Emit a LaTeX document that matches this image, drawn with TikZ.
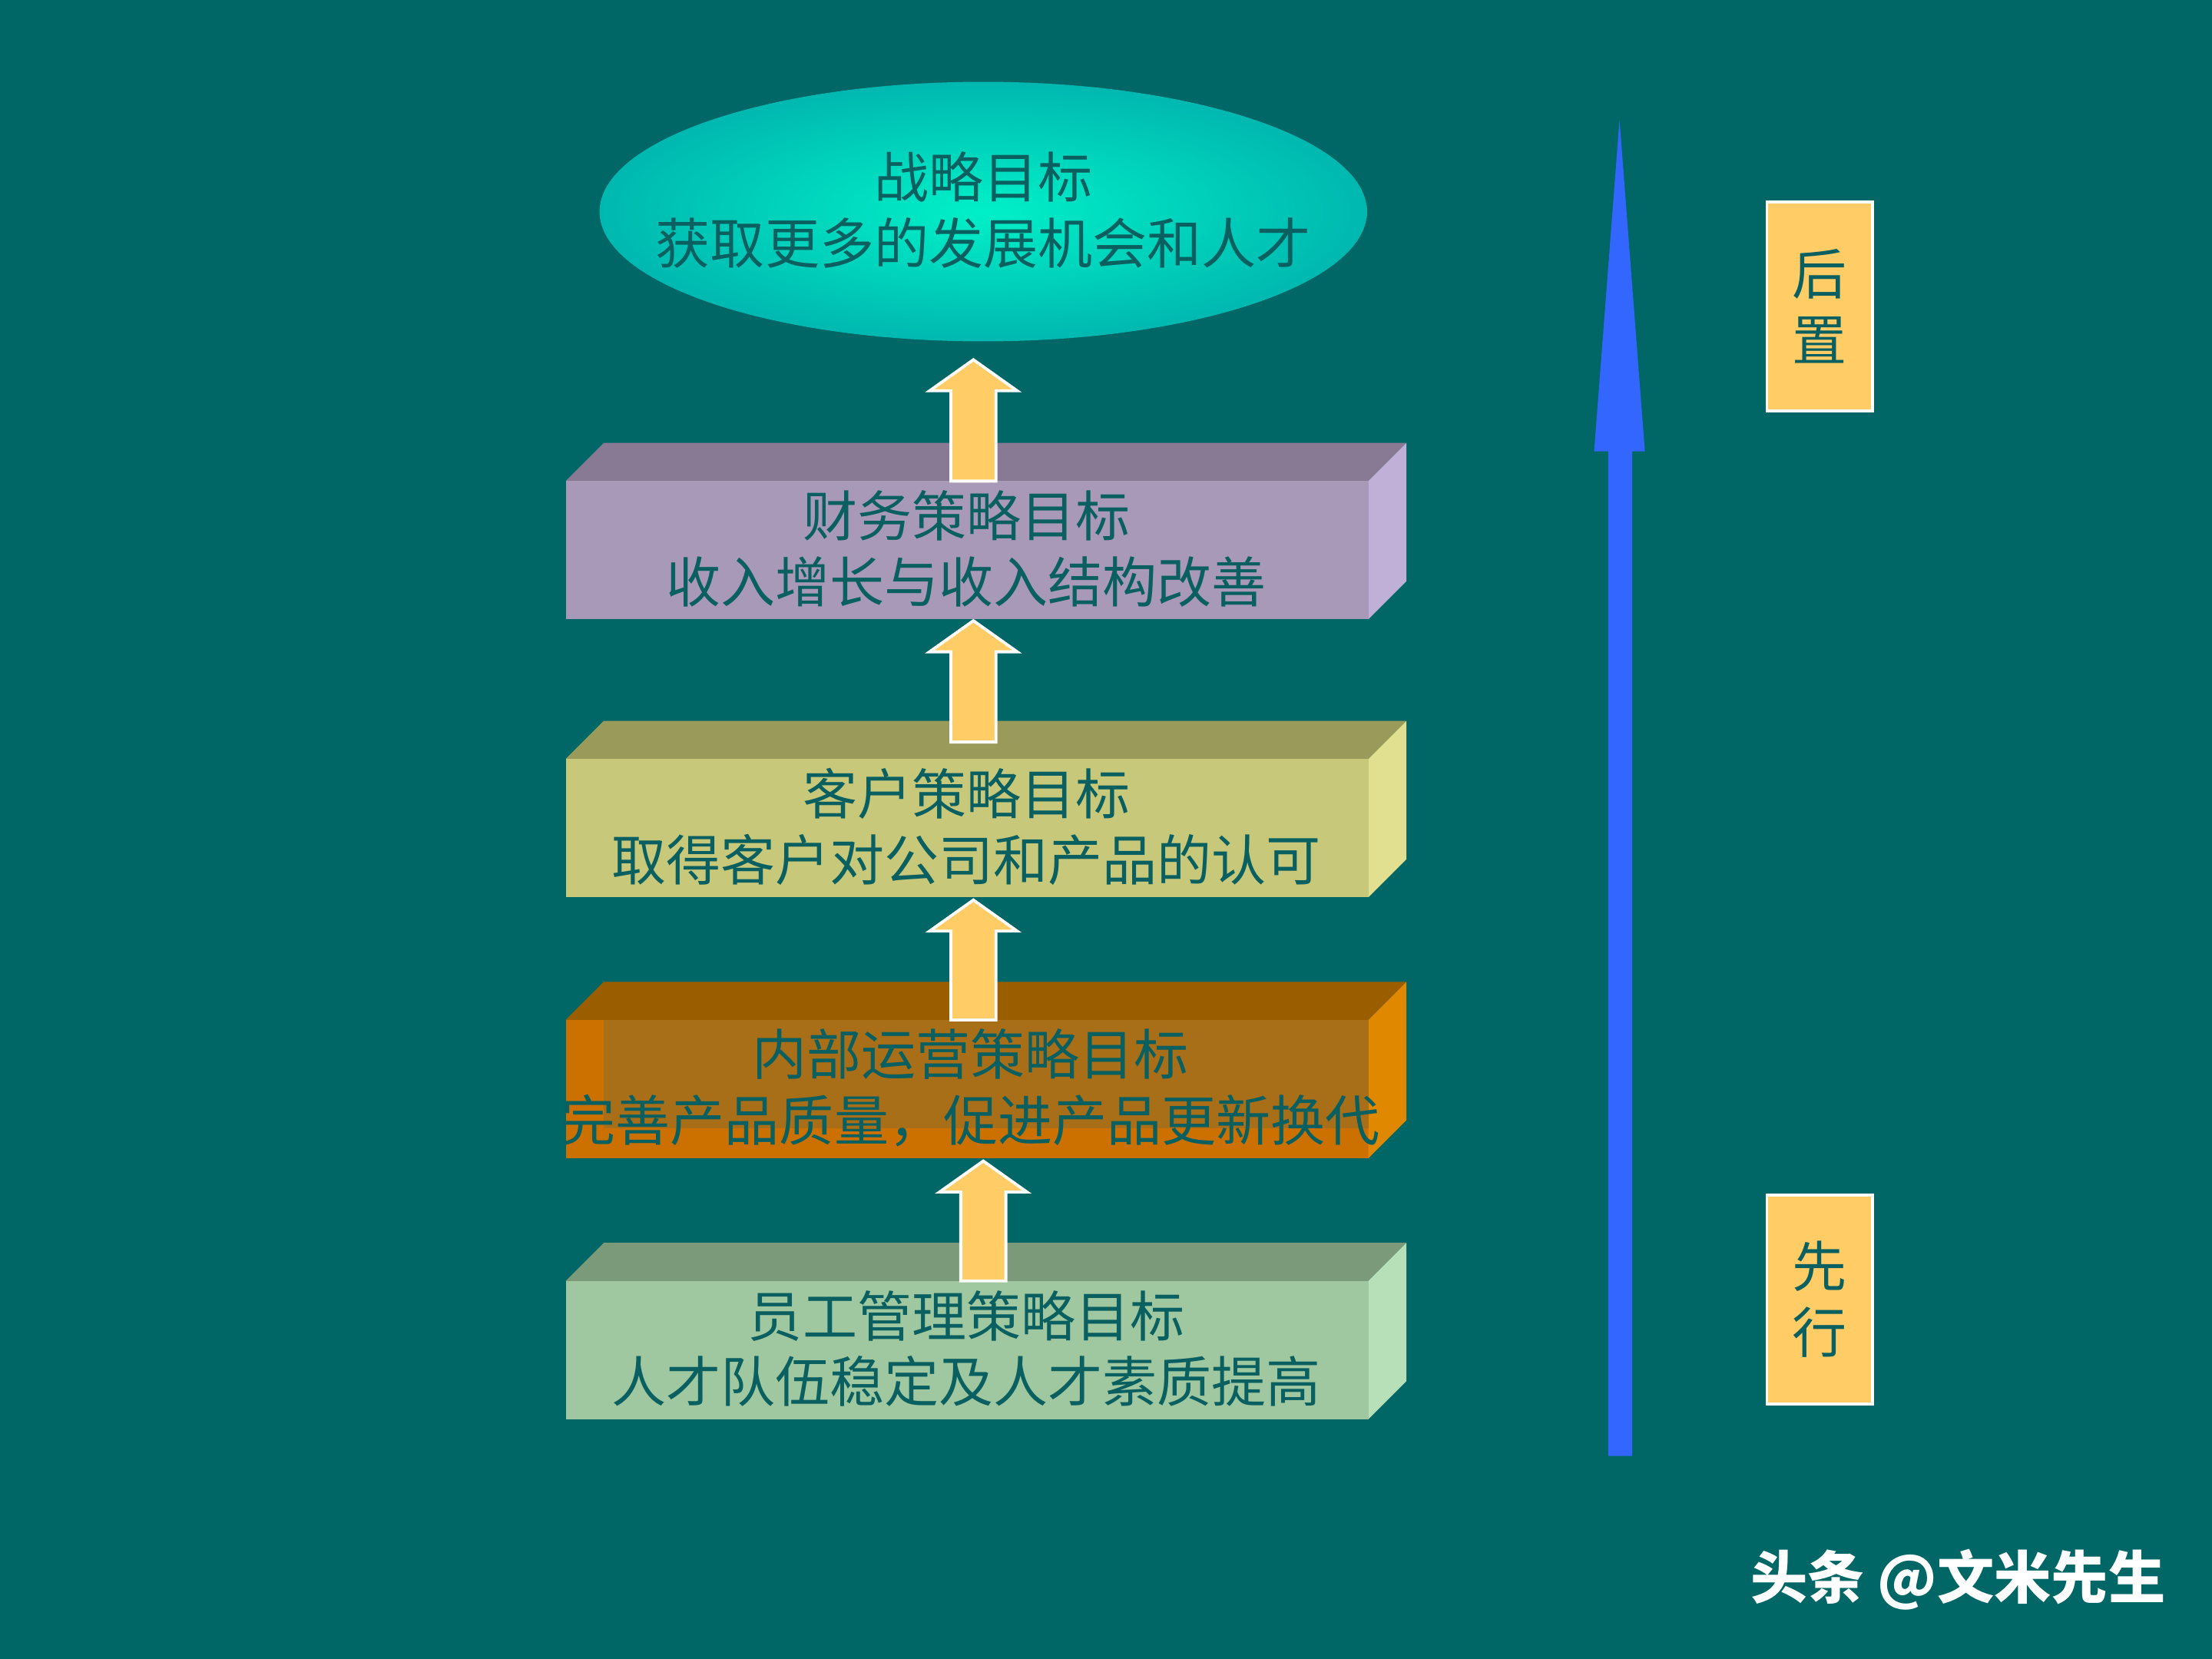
\documentclass[tikz,border=0pt]{standalone}
\usepackage{fontspec}
\newfontfamily\cjk{Noto Sans CJK SC}
\begin{document}
\begin{tikzpicture}[x=0.01cm,y=-0.01cm,
  txt/.style={font=\cjk\fontsize{11}{13.3}\selectfont,text=tealtxt,align=center,inner sep=0},
  uparrow/.style={fill=yel,draw=white,line width=0.6pt}]
\definecolor{bg}{HTML}{006666}
\definecolor{tealtxt}{HTML}{0A6060}
\definecolor{yel}{HTML}{FFCC66}
\definecolor{blu}{HTML}{3366FF}
\definecolor{f1}{HTML}{A899B8}\definecolor{t1}{HTML}{887A95}\definecolor{s1}{HTML}{C0B0D8}
\definecolor{f2}{HTML}{C8C87A}\definecolor{t2}{HTML}{9A9A5A}\definecolor{s2}{HTML}{E0E090}
\definecolor{f3}{HTML}{CC7000}\definecolor{t3}{HTML}{9A5E00}\definecolor{s3}{HTML}{E08800}
\definecolor{o3}{HTML}{A86E18}
\definecolor{f4}{HTML}{A0C8A0}\definecolor{t4}{HTML}{7A9A7A}\definecolor{s4}{HTML}{B8E0B8}
\definecolor{ein}{HTML}{00F0C8}\definecolor{eout}{HTML}{00B8B0}
\useasboundingbox (0,0) rectangle (1568,1176);
\fill[bg] (0,0) rectangle (1568,1176);
% ellipse
\shade[inner color=ein, outer color=eout] (697,150) ellipse [x radius=272, y radius=92];
\node[txt] (goal) at (697,149) {战略目标\\获取更多的发展机会和人才};
% boxes
\newcommand\mybox[6]{%
  \fill[#4] (401,#1) -- (428,#1-27) -- (997,#1-27) -- (970,#1) -- cycle;
  \fill[#5] (970,#1) -- (997,#1-27) -- (997,#1+71) -- (970,#1+98) -- cycle;
  \fill[#3] (401,#1) rectangle (970,#1+98);
  \node[txt] (#2) at (685,#1+48) {#6};}
\mybox{341}{fin}{f1}{t1}{s1}{财务策略目标\\收入增长与收入结构改善}
\mybox{538}{cus}{f2}{t2}{s2}{客户策略目标\\取得客户对公司和产品的认可}
\fill[f3] (401,723) rectangle (970,821);
\fill[t3] (401,723) -- (428,696) -- (997,696) -- (970,723) -- cycle;
\fill[s3] (970,723) -- (997,696) -- (997,794) -- (970,821) -- cycle;
\fill[o3] (428,723) rectangle (970,800);
\node[txt] (ops) at (688,771) {内部运营策略目标\\完善产品质量，促进产品更新换代};
\mybox{908}{emp}{f4}{t4}{s4}{员工管理策略目标\\人才队伍稳定及人才素质提高}
% up arrows
\newcommand\uparr[3]{%
  \draw[uparrow] (#1-16,#2) -- (#1-16,#3+22) -- (#1-31,#3+22) -- (#1,#3) -- (#1+31,#3+22) -- (#1+16,#3+22) -- (#1+16,#2) -- cycle;}
\uparr{690}{341}{255}
\uparr{690}{526}{440}
\uparr{690}{723}{638}
\uparr{697}{908}{823}
% big arrow
\fill[blu] (1140,1032) -- (1140,320) -- (1130,320) -- (1148,85) -- (1166,320) -- (1157,320) -- (1157,1032) -- cycle;
% labels
\node[draw=white,fill=yel,minimum width=0.75cm,minimum height=1.48cm,txt,line width=0.6pt] (late) at (1290,217) {后\\置};
\node[draw=white,fill=yel,minimum width=0.75cm,minimum height=1.48cm,txt,line width=0.6pt] (early) at (1290,921) {先\\行};
\node[font=\cjk\bfseries\fontsize{11.5}{14}\selectfont,text=white,inner sep=0] (wm) at (1388,1120) {头条 @文米先生};
\end{tikzpicture}
\end{document}
